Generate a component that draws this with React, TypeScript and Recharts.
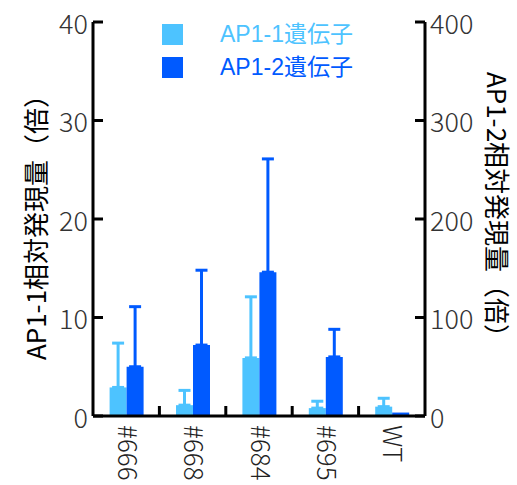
import { Bar, BarChart, ErrorBar, Legend, XAxis, YAxis } from "recharts";

const categories = ["#666", "#668", "#684", "#695", "WT"];
const ap11Values = [2.9, 1.1, 5.9, 0.8, 0.95];
const ap11Errors = [4.5, 1.5, 6.2, 0.7, 0.85];
const ap12Values = [50, 72, 146, 60, 3.5];
const ap12Errors: (number | null)[] = [61, 76, 115, 28, null];
const leftTicks = [0, 10, 20, 30, 40];
const rightTicks = [0, 100, 200, 300, 400];
const seriesNames = ["AP1-1遺伝子", "AP1-2遺伝子"];
const leftTitle = "AP1-1相対発現量（倍）";
const rightTitle = "AP1-2相対発現量（倍）";

const LIGHT = "#4dc3ff";
const DARK = "#005aff";
const W = 517;
const H = 485;
const LEFT_W = 93;
const RIGHT_W = 92;
const BAND = (W - LEFT_W - RIGHT_W) / categories.length;
const TICK_FONT = "'Noto Sans CJK JP', 'Noto Sans', sans-serif";

const data = categories.map((name, i) => ({
  name,
  ap11: ap11Values[i],
  ap11Err: [0, ap11Errors[i]],
  ap12: ap12Values[i],
  ap12Err: ap12Errors[i] == null ? null : [0, ap12Errors[i]],
}));

const LeftTick = ({ x, y, payload }: any) => (
  <g>
    <line x1={x + 5} x2={x + 15} y1={y} y2={y} stroke="#000" strokeWidth={3} />
    <text x={x} y={y} textAnchor="end" dominantBaseline="central" fill="#333" fontSize={27} fontWeight={300} fontFamily={TICK_FONT}>
      {payload.value}
    </text>
  </g>
);

const RightTick = ({ x, y, payload }: any) => (
  <g>
    <line x1={x - 5} x2={x - 15} y1={y} y2={y} stroke="#000" strokeWidth={3} />
    <text x={x} y={y} textAnchor="start" dominantBaseline="central" fill="#333" fontSize={27} fontWeight={300} fontFamily={TICK_FONT}>
      {payload.value}
    </text>
  </g>
);

const BottomTick = ({ x, y, payload, index }: any) => {
  const tx = x + 3;
  return (
    <g>
      {index < categories.length - 1 && (
        <line x1={x + BAND / 2} x2={x + BAND / 2} y1={y - 9} y2={y - 19} stroke="#000" strokeWidth={3} />
      )}
      <text
        x={tx}
        y={y}
        transform={`rotate(90, ${tx}, ${y})`}
        textAnchor="start"
        dominantBaseline="central"
        fill="#222"
        fontSize={26}
        fontWeight={300}
        fontFamily={TICK_FONT}
      >
        {payload.value}
      </text>
    </g>
  );
};

const axisTitle = (value: string, side: "left" | "right") => (props: any) => {
  const vb = props.viewBox;
  const cx = side === "left" ? vb.x + 34 : vb.x + 73;
  const cy = vb.y + vb.height / 2 + (side === "left" ? 2 : -8);
  return (
    <text
      x={cx}
      y={cy}
      transform={`rotate(${side === "left" ? -90 : 90}, ${cx}, ${cy})`}
      textAnchor="middle"
      dominantBaseline="central"
      fill="#000"
      fontSize={26}
      fontFamily="'Noto Sans CJK JP', sans-serif"
    >
      {value}
    </text>
  );
};

const LegendContent = () => (
  <div style={{ fontFamily: "'Liberation Sans', 'Noto Sans CJK JP', sans-serif", fontSize: 23 }}>
    {seriesNames.map((n, i) => (
      <div key={n} style={{ display: "flex", alignItems: "center", height: 21, marginBottom: 12 }}>
        <div style={{ width: 21, height: 21, background: i === 0 ? LIGHT : DARK }} />
        <span style={{ marginLeft: 37, color: i === 0 ? LIGHT : DARK, lineHeight: "21px", whiteSpace: "nowrap" }}>{n}</span>
      </div>
    ))}
  </div>
);

export default function App() {
  return (
    <div style={{ position: "absolute", left: 0, top: 0, background: "#fff" }}>
      <BarChart
        width={W}
        height={H}
        data={data}
        margin={{ top: 22, right: 0, bottom: 0, left: 0 }}
        barCategoryGap="25%"
        barGap={0}
      >
        <XAxis
          dataKey="name"
          height={69}
          tickSize={0}
          tickMargin={9}
          tickLine={false}
          axisLine={{ stroke: "#000", strokeWidth: 3 }}
          tick={<BottomTick />}
          interval={0}
        />
        <YAxis
          yAxisId="left"
          orientation="left"
          width={LEFT_W}
          domain={[0, 40]}
          ticks={leftTicks}
          tickSize={0}
          tickMargin={5}
          tickLine={false}
          axisLine={{ stroke: "#000", strokeWidth: 3 }}
          tick={<LeftTick />}
          label={{ content: axisTitle(leftTitle, "left") }}
        />
        <YAxis
          yAxisId="right"
          orientation="right"
          width={RIGHT_W}
          domain={[0, 400]}
          ticks={rightTicks}
          tickSize={0}
          tickMargin={5}
          tickLine={false}
          axisLine={{ stroke: "#000", strokeWidth: 3 }}
          tick={<RightTick />}
          label={{ content: axisTitle(rightTitle, "right") }}
        />
        <Legend
          layout="vertical"
          align="center"
          verticalAlign="middle"
          content={<LegendContent />}
          wrapperStyle={{ left: 162, top: 24, width: 240 }}
        />
        <Bar yAxisId="left" dataKey="ap11" name={seriesNames[0]} fill={LIGHT} isAnimationActive={false}>
          <ErrorBar dataKey="ap11Err" width={6} strokeWidth={3} stroke={LIGHT} direction="y" />
        </Bar>
        <Bar yAxisId="right" dataKey="ap12" name={seriesNames[1]} fill={DARK} isAnimationActive={false}>
          <ErrorBar dataKey="ap12Err" width={6} strokeWidth={3} stroke={DARK} direction="y" />
        </Bar>
      </BarChart>
    </div>
  );
}
